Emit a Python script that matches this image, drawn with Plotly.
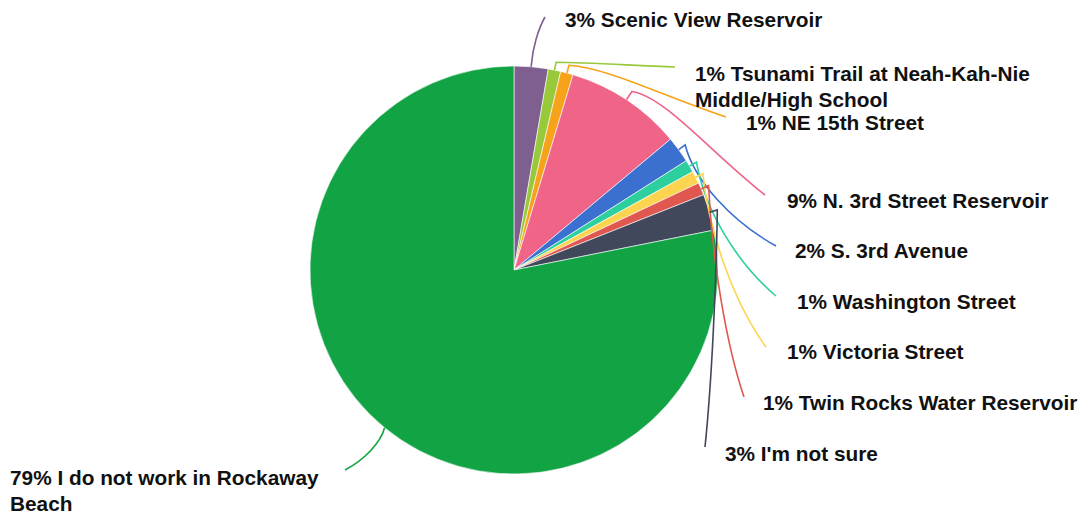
import math
import plotly.graph_objects as go

# ---- data ----
categories = [
    "Scenic View Reservoir",
    "Tsunami Trail at Neah-Kah-Nie<br>Middle/High School",
    "NE 15th Street",
    "N. 3rd Street Reservoir",
    "S. 3rd Avenue",
    "Washington Street",
    "Victoria Street",
    "Twin Rocks Water Reservoir",
    "I'm not sure",
    "I do not work in Rockaway<br>Beach",
]
values = [2.7, 1.0, 1.0, 9.3, 2.1, 1.0, 1.0, 1.0, 2.9, 78.6]
pct_labels = ["3%", "1%", "1%", "9%", "2%", "1%", "1%", "1%", "3%", "79%"]
colors = ["#7e5f8f", "#97c93a", "#f7a21b", "#f06487", "#3b6fd0",
          "#2ecf9e", "#fdd450", "#e0574f", "#41485b", "#11a344"]

# ---- layout (screen pixels; page body has an 8px margin) ----
OFF = 8
W, H = 1089, 517
CX, CY, R = 514, 270, 204
label_pos = [(563, 20), (693, 73), (744, 122), (785, 200), (793, 250),
             (795, 301), (785, 351), (761, 402), (723, 453), (8, 477)]
line_end = [(545, 17), (675, 67), (726, 117), (765, 195), (776, 246),
            (776, 296), (766, 347), (744, 397), (705, 447), (345, 470)]
stub = [2, 8, 8, 10, 8, 8, 8, 8, 8, 0]


def px2paper(x, y):
    return (x - OFF) / W, 1 - (y - OFF) / H


fig = go.Figure()
x0, y1 = px2paper(CX - R, CY - R)
x1, y0 = px2paper(CX + R, CY + R)
fig.add_trace(go.Pie(
    values=values,
    labels=[c.replace("<br>", " ") for c in categories],
    sort=False,
    direction="clockwise",
    rotation=0,
    marker=dict(colors=colors, line=dict(color="white", width=0.6)),
    textinfo="none",
    hoverinfo="label+percent",
    showlegend=False,
    domain=dict(x=[x0, x1], y=[y0, y1]),
))

total = sum(values)
cum = 0.0
shapes = []
annotations = []
for i, v in enumerate(values):
    mid = (cum + v / 2) / total * 2 * math.pi
    cum += v
    sx, sy = math.sin(mid), -math.cos(mid)
    p0 = (CX + R * sx, CY + R * sy)
    p1 = (CX + (R + stub[i]) * sx, CY + (R + stub[i]) * sy)
    p2 = line_end[i]
    dx, dy = p2[0] - p1[0], p2[1] - p1[1]
    if abs(dx) > abs(dy):
        c1 = (p1[0] + 0.25 * dx, p1[1] + 0.05 * dy)
        c2 = (p1[0] + 0.6 * dx, p1[1] + 0.6 * dy)
    else:
        c1 = (p1[0] + 0.1 * dx, p1[1] + 0.35 * dy)
        c2 = (p1[0] + 0.5 * dx, p1[1] + 0.75 * dy)
    pts = [px2paper(*p) for p in (p0, p1, c1, c2, p2)]
    path = "M {:.5f},{:.5f} L {:.5f},{:.5f} C {:.5f},{:.5f} {:.5f},{:.5f} {:.5f},{:.5f}".format(
        *[c for p in pts for c in p])
    shapes.append(dict(type="path", path=path, xref="paper", yref="paper",
                       line=dict(color=colors[i], width=1.6)))
    lines = (pct_labels[i] + " " + categories[i]).split("<br>")
    lx, ly = label_pos[i]
    for j, t in enumerate(lines):
        ax, ay = px2paper(lx, ly + 26 * j)
        annotations.append(dict(
            x=ax, y=ay, xref="paper", yref="paper", text="<b>" + t + "</b>",
            showarrow=False, xanchor="left", yanchor="middle", align="left",
            font=dict(family="Liberation Sans", size=20.8, color="#111111"),
        ))

fig.update_layout(
    width=W, height=H,
    margin=dict(l=0, r=0, t=0, b=0),
    paper_bgcolor="white",
    plot_bgcolor="white",
    shapes=shapes,
    annotations=annotations,
)

fig.write_html("out.html")
